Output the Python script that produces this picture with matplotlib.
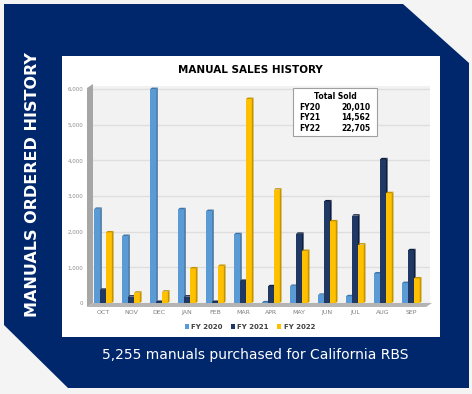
import numpy as np
import matplotlib.pyplot as plt
from matplotlib.patches import Polygon, Rectangle

# Datos del gráfico
meses = ["OCT", "NOV", "DEC", "JAN", "FEB", "MAR", "APR", "MAY", "JUN", "JUL", "AUG", "SEP"]
fy2020 = [2640, 1880, 6000, 2630, 2580, 1930, 20, 480, 230, 190, 830, 560]
fy2021 = [370, 180, 30, 180, 30, 620, 470, 1940, 2850, 2450, 4030, 1480]
fy2022 = [1980, 290, 320, 970, 1040, 5720, 3180, 1460, 2290, 1640, 3080, 690]
series = ["FY 2020", "FY 2021", "FY 2022"]
totales = [("FY20", "20,010"), ("FY21", "14,562"), ("FY22", "22,705")]
yticks = [0, 1000, 2000, 3000, 4000, 5000, 6000]

colores = ["#5b9bd5", "#1f3864", "#ffc000"]
lados = ["#3f74a6", "#101f3d", "#c49400"]
navy = "#00266b"

W, H = 472, 394
fig = plt.figure(figsize=(W / 100, H / 100), dpi=100)
fig.patch.set_facecolor("#f4f4f4")

# Fondo: forma azul y panel blanco (coordenadas en pixeles)
bg = fig.add_axes([0, 0, 1, 1], zorder=0)
bg.set_xlim(0, W)
bg.set_ylim(H, 0)
bg.axis("off")
bg.add_patch(Polygon([(4, 4), (403, 4), (469, 63), (469, 388), (68, 388), (4, 325)],
                     closed=True, facecolor=navy, edgecolor="none"))
bg.add_patch(Rectangle((62, 56), 378, 281, facecolor="white", edgecolor="none"))
# pared izquierda y piso del gráfico 3D
bg.add_patch(Polygon([(87, 88), (93, 84), (93, 303), (87, 307)], closed=True,
                     facecolor="#a6a6a6", edgecolor="none"))
bg.add_patch(Polygon([(87, 307), (93, 303), (432, 303), (426, 307)], closed=True,
                     facecolor="#b4b4b4", edgecolor="none"))

bg.text(33, 185, "MANUALS ORDERED HISTORY", rotation=90, color="white",
        fontsize=11.5, fontweight="bold", ha="center", va="center")
bg.text(255, 355, "5,255 manuals purchased for California RBS", color="white",
        fontsize=10, ha="center", va="center")
bg.text(250, 70, "MANUAL SALES HISTORY", color="black", fontsize=7.5,
        fontweight="bold", ha="center", va="center")

# Ejes del gráfico de barras
x0, x1, y0, y1 = 93, 430, 303, 86
ax = fig.add_axes([x0 / W, 1 - y0 / H, (x1 - x0) / W, (y0 - y1) / H], zorder=1)
ax.set_facecolor("#f2f2f2")
ax.set_ylim(0, 6000 * (y0 - y1) / 214)
ax.set_xlim(-0.36, 11.68)
for s in ax.spines.values():
    s.set_visible(False)
ax.set_yticks(yticks)
ax.set_yticklabels([f"{v:,}" for v in yticks])
ax.set_xticks(np.arange(len(meses)))
ax.set_xticklabels(meses)
ax.tick_params(axis="y", length=0, pad=7, labelsize=4, labelcolor="#8c8c8c")
ax.tick_params(axis="x", length=0, pad=5, labelsize=4.5, labelcolor="#7f7f7f")
ax.yaxis.grid(True, color="#dedede", linewidth=1)
ax.set_axisbelow(True)

x = np.arange(len(meses))
ancho = 0.21
d = 0.06
dy = 40
handles = []
for i, valores in enumerate([fy2020, fy2021, fy2022]):
    pos = x + (i - 1) * ancho
    z = 3 + i
    b = ax.bar(pos, valores, width=ancho, color=colores[i], label=series[i], zorder=z)
    handles.append(b)
    for px, h in zip(pos, valores):
        xr = px + ancho / 2
        xl = px - ancho / 2
        ax.add_patch(Polygon([(xr, 0), (xr + d, dy), (xr + d, h + dy), (xr, h)],
                             closed=True, facecolor=lados[i], edgecolor="none", zorder=z))
        ax.add_patch(Polygon([(xl, h), (xl + d, h + dy), (xr + d, h + dy), (xr, h)],
                             closed=True, facecolor=lados[i], edgecolor="none", zorder=z))

fig.legend(handles=handles, loc="center", bbox_to_anchor=(250 / W, 1 - 327 / H),
           ncol=3, frameon=False, prop={"size": 5, "weight": "bold"},
           labelcolor="#404040", handlelength=0.6, handleheight=0.6,
           handletextpad=0.3, columnspacing=1.2)

# Cuadro de totales
ov = fig.add_axes([0, 0, 1, 1], zorder=5)
ov.set_xlim(0, W)
ov.set_ylim(H, 0)
ov.axis("off")
ov.patch.set_alpha(0)
ov.add_patch(Rectangle((293, 88), 84, 48, facecolor="white", edgecolor="#a0a0a0", linewidth=0.8))
ov.text(335, 96, "Total Sold", fontsize=5.5, fontweight="bold", ha="center", va="center")
for k, (fy, tot) in enumerate(totales):
    yy = 107 + k * 10.5
    ov.text(299, yy, fy, fontsize=5.5, fontweight="bold", ha="left", va="center")
    ov.text(370, yy, tot, fontsize=5.5, fontweight="bold", ha="right", va="center")

fig.savefig("out.png", dpi=100)
